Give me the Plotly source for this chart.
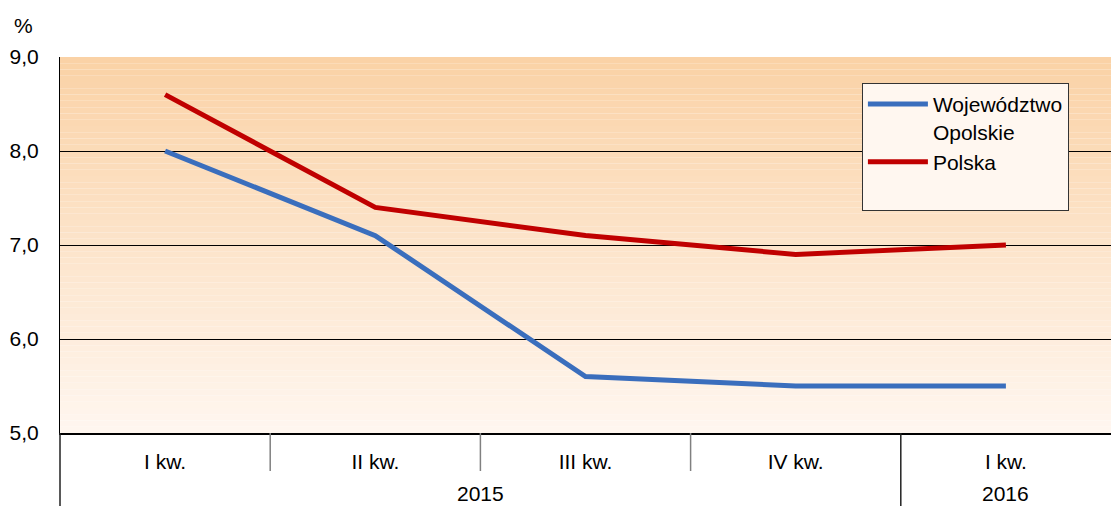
import plotly.graph_objects as go

years = ["2015", "2015", "2015", "2015", "2016"]
quarters = ["I kw.", "II kw.", "III kw.", "IV kw.", "I kw."]
opolskie = [8.0, 7.1, 5.6, 5.5, 5.5]
polska = [8.6, 7.4, 7.1, 6.9, 7.0]
y_ticks = [5, 6, 7, 8, 9]
y_labels = ["5,0", "6,0", "7,0", "8,0", "9,0"]

FONT = "Liberation Sans, Arial, sans-serif"
FS = 21

idx = list(range(len(quarters)))
x_lo, x_hi = -0.5, len(quarters) - 0.5
plot_h = 376  # plot area height in px (used to place things below the axis)


def xpaper(v):
    return (v - x_lo) / (x_hi - x_lo)


fig = go.Figure()

fig.add_trace(go.Scatter(
    x=idx, y=opolskie,
    mode="lines", name="Województwo<br>Opolskie",
    line=dict(color="#3A6EBD", width=5),
))
fig.add_trace(go.Scatter(
    x=idx, y=polska,
    mode="lines", name="Polska<br>&nbsp;",
    line=dict(color="#C00000", width=5),
))

# vertical gradient background (orange at top -> almost white at bottom)
top = (250, 210, 166)
bottom = (255, 246, 239)
n = 60
shapes = []
for i in range(n):
    t = i / (n - 1)
    c = tuple(round(bottom[k] + (top[k] - bottom[k]) * t) for k in range(3))
    shapes.append(dict(
        type="rect", xref="paper", yref="paper", layer="below",
        x0=0, x1=1, y0=i / n, y1=(i + 1) / n,
        fillcolor="rgb(%d,%d,%d)" % c, line=dict(width=0),
    ))

# quarter separators below the axis
for i in idx[:-1]:
    if years[i] != years[i + 1]:
        continue
    xp = xpaper(i + 0.5)
    shapes.append(dict(type="line", xref="paper", yref="paper",
                       x0=xp, x1=xp, y0=0, y1=-38 / plot_h,
                       line=dict(color="#808080", width=1.5)))

# year dividers (left edge + between years), running to the bottom
divs = [x_lo] + [i + 0.5 for i in idx[:-1] if years[i] != years[i + 1]]
for d in divs:
    xp = xpaper(d)
    shapes.append(dict(type="line", xref="paper", yref="paper",
                       x0=xp, x1=xp, y0=0, y1=-80 / plot_h,
                       line=dict(color="#222222", width=1.5)))

annotations = [dict(
    text="%", xref="paper", yref="paper", x=-0.024, y=1 + 32 / plot_h,
    xanchor="right", yanchor="middle", showarrow=False,
    font=dict(family=FONT, size=FS, color="black"),
)]
for yr in dict.fromkeys(years):
    pos = [i for i in idx if years[i] == yr]
    annotations.append(dict(
        text=yr, xref="paper", yref="paper",
        x=xpaper(sum(pos) / len(pos)), y=-61 / plot_h,
        xanchor="center", yanchor="middle", showarrow=False,
        font=dict(family=FONT, size=FS, color="black"),
    ))

fig.update_layout(
    width=1103, height=498,
    margin=dict(l=52, r=0, t=49, b=73),
    paper_bgcolor="white",
    plot_bgcolor="white",
    font=dict(family=FONT, size=FS, color="black"),
    shapes=shapes,
    annotations=annotations,
    showlegend=True,
    legend=dict(
        x=0.763, y=0.931, xanchor="left", yanchor="top",
        bgcolor="#FFF7F0", bordercolor="#333333", borderwidth=1,
        font=dict(family=FONT, size=FS, color="black"),
        valign="top", itemwidth=60, tracegroupgap=0,
    ),
)

fig.update_yaxes(
    range=[5, 9], tickvals=y_ticks, ticktext=y_labels,
    showgrid=True, gridcolor="black", gridwidth=1,
    showline=True, linecolor="black", linewidth=1, mirror=True,
    zeroline=False, ticks="", ticklabelstandoff=16,
)
fig.update_xaxes(
    range=[x_lo, x_hi], tickvals=idx, ticktext=quarters,
    showgrid=False, zeroline=False,
    showline=True, linecolor="black", linewidth=1.5,
    ticks="", ticklabelstandoff=9,
)

fig.write_html("out.html")
